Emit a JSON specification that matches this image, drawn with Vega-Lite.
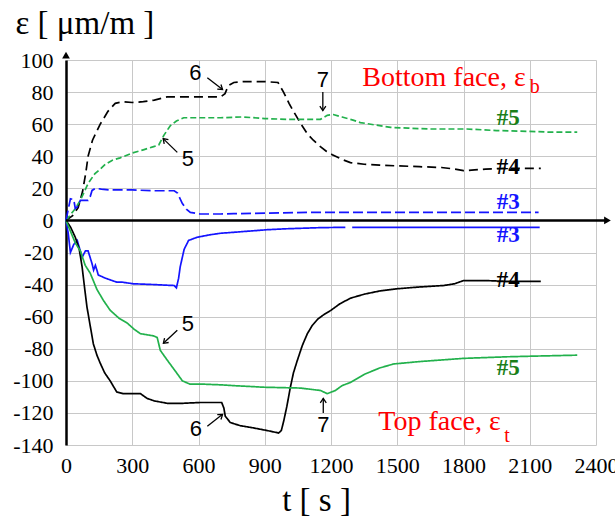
{
  "$schema": "https://vega.github.io/schema/vega-lite/v6.json",
  "width": 530,
  "height": 385,
  "autosize": {"type": "none"},
  "padding": {"left": 66, "top": 60, "right": 19, "bottom": 79},
  "background": "white",
  "config": {"view": {"stroke": null}},
  "datasets": {
    "curves": [
      {"s":"b4","t":0,"v":0},{"s":"b4","t":30,"v":3},{"s":"b4","t":55,"v":8},{"s":"b4","t":75,"v":18},{"s":"b4","t":90,"v":30},{"s":"b4","t":100,"v":40},{"s":"b4","t":120,"v":50},{"s":"b4","t":155,"v":60},{"s":"b4","t":190,"v":68},{"s":"b4","t":223,"v":73},{"s":"b4","t":260,"v":74},{"s":"b4","t":300,"v":73.5},{"s":"b4","t":350,"v":74},{"s":"b4","t":400,"v":75},{"s":"b4","t":458,"v":77},{"s":"b4","t":520,"v":77},{"s":"b4","t":600,"v":77},{"s":"b4","t":700,"v":77},{"s":"b4","t":720,"v":79},{"s":"b4","t":735,"v":84},{"s":"b4","t":760,"v":86},{"s":"b4","t":800,"v":86.5},{"s":"b4","t":850,"v":86.5},{"s":"b4","t":900,"v":86.5},{"s":"b4","t":960,"v":86},{"s":"b4","t":985,"v":80},{"s":"b4","t":1010,"v":73},{"s":"b4","t":1030,"v":68},{"s":"b4","t":1060,"v":61},{"s":"b4","t":1093,"v":54},{"s":"b4","t":1120,"v":50},{"s":"b4","t":1152,"v":46},{"s":"b4","t":1180,"v":43},{"s":"b4","t":1206,"v":41},{"s":"b4","t":1250,"v":38},{"s":"b4","t":1288,"v":36},{"s":"b4","t":1350,"v":35},{"s":"b4","t":1420,"v":34.5},{"s":"b4","t":1500,"v":34},{"s":"b4","t":1600,"v":33.5},{"s":"b4","t":1700,"v":33},{"s":"b4","t":1760,"v":32},{"s":"b4","t":1800,"v":31},{"s":"b4","t":1850,"v":31.5},{"s":"b4","t":1900,"v":32},{"s":"b4","t":2000,"v":32.5},{"s":"b4","t":2150,"v":32.5},
      {"s":"b5","t":0,"v":0},{"s":"b5","t":40,"v":7},{"s":"b5","t":65,"v":12.5},{"s":"b5","t":80,"v":17},{"s":"b5","t":100,"v":23},{"s":"b5","t":130,"v":29},{"s":"b5","t":155,"v":32},{"s":"b5","t":178,"v":35},{"s":"b5","t":210,"v":37.5},{"s":"b5","t":245,"v":39},{"s":"b5","t":300,"v":42},{"s":"b5","t":350,"v":44},{"s":"b5","t":397,"v":46},{"s":"b5","t":420,"v":47},{"s":"b5","t":443,"v":53},{"s":"b5","t":472,"v":59},{"s":"b5","t":500,"v":62},{"s":"b5","t":533,"v":64},{"s":"b5","t":600,"v":64},{"s":"b5","t":700,"v":64},{"s":"b5","t":800,"v":64.5},{"s":"b5","t":900,"v":63.5},{"s":"b5","t":1000,"v":63},{"s":"b5","t":1100,"v":63},{"s":"b5","t":1152,"v":63},{"s":"b5","t":1183,"v":65.5},{"s":"b5","t":1210,"v":66},{"s":"b5","t":1250,"v":64.5},{"s":"b5","t":1300,"v":62.5},{"s":"b5","t":1333,"v":61},{"s":"b5","t":1400,"v":59.5},{"s":"b5","t":1470,"v":58},{"s":"b5","t":1550,"v":57.5},{"s":"b5","t":1650,"v":57},{"s":"b5","t":1815,"v":57},{"s":"b5","t":1950,"v":56},{"s":"b5","t":2100,"v":55.5},{"s":"b5","t":2200,"v":55},{"s":"b5","t":2315,"v":55},
      {"s":"b3","t":0,"v":0},{"s":"b3","t":20,"v":13.5},{"s":"b3","t":35,"v":13},{"s":"b3","t":42,"v":7.5},{"s":"b3","t":55,"v":9},{"s":"b3","t":65,"v":12.5},{"s":"b3","t":100,"v":12.5},{"s":"b3","t":110,"v":15},{"s":"b3","t":118,"v":18.7},{"s":"b3","t":133,"v":20},{"s":"b3","t":160,"v":19.5},{"s":"b3","t":200,"v":19},{"s":"b3","t":300,"v":19},{"s":"b3","t":400,"v":18.5},{"s":"b3","t":490,"v":18.5},{"s":"b3","t":505,"v":17},{"s":"b3","t":527,"v":10.5},{"s":"b3","t":545,"v":7},{"s":"b3","t":563,"v":5},{"s":"b3","t":608,"v":4},{"s":"b3","t":700,"v":4},{"s":"b3","t":759,"v":4.2},{"s":"b3","t":900,"v":4.5},{"s":"b3","t":1100,"v":5},{"s":"b3","t":1300,"v":5},{"s":"b3","t":1600,"v":5},{"s":"b3","t":1900,"v":5},{"s":"b3","t":2140,"v":5},
      {"s":"t3","t":0,"v":0},{"s":"t3","t":10,"v":-8},{"s":"t3","t":20,"v":-20},{"s":"t3","t":35,"v":-15},{"s":"t3","t":51,"v":-12.5},{"s":"t3","t":73,"v":-23},{"s":"t3","t":88,"v":-19},{"s":"t3","t":100,"v":-19},{"s":"t3","t":118,"v":-27},{"s":"t3","t":125,"v":-31},{"s":"t3","t":133,"v":-28},{"s":"t3","t":140,"v":-31},{"s":"t3","t":146,"v":-34},{"s":"t3","t":178,"v":-36},{"s":"t3","t":230,"v":-38.5},{"s":"t3","t":255,"v":-38.5},{"s":"t3","t":305,"v":-39.5},{"s":"t3","t":400,"v":-40},{"s":"t3","t":490,"v":-40.6},{"s":"t3","t":500,"v":-42},{"s":"t3","t":510,"v":-36},{"s":"t3","t":517,"v":-29},{"s":"t3","t":535,"v":-18},{"s":"t3","t":555,"v":-12.5},{"s":"t3","t":594,"v":-10.5},{"s":"t3","t":650,"v":-9},{"s":"t3","t":700,"v":-8},{"s":"t3","t":760,"v":-7.4},{"s":"t3","t":911,"v":-5.8},{"s":"t3","t":1000,"v":-5.2},{"s":"t3","t":1152,"v":-4.5},{"s":"t3","t":1265,"v":-4.3},
      {"s":"t3x","t":1296,"v":-4.3},{"s":"t3x","t":1700,"v":-4.3},{"s":"t3x","t":2145,"v":-4.3},
      {"s":"t4","t":0,"v":0},{"s":"t4","t":20,"v":-4},{"s":"t4","t":42,"v":-10.5},{"s":"t4","t":60,"v":-18},{"s":"t4","t":73,"v":-29},{"s":"t4","t":85,"v":-43},{"s":"t4","t":95,"v":-54},{"s":"t4","t":110,"v":-66},{"s":"t4","t":124,"v":-77},{"s":"t4","t":140,"v":-84},{"s":"t4","t":155,"v":-89},{"s":"t4","t":175,"v":-95},{"s":"t4","t":200,"v":-100},{"s":"t4","t":230,"v":-107},{"s":"t4","t":260,"v":-108},{"s":"t4","t":290,"v":-108},{"s":"t4","t":337,"v":-108},{"s":"t4","t":368,"v":-111},{"s":"t4","t":400,"v":-112.5},{"s":"t4","t":458,"v":-114},{"s":"t4","t":530,"v":-114},{"s":"t4","t":608,"v":-113.5},{"s":"t4","t":705,"v":-113.5},{"s":"t4","t":715,"v":-117},{"s":"t4","t":721,"v":-122},{"s":"t4","t":744,"v":-126},{"s":"t4","t":790,"v":-128},{"s":"t4","t":835,"v":-129},{"s":"t4","t":911,"v":-131},{"s":"t4","t":963,"v":-132.5},{"s":"t4","t":975,"v":-131},{"s":"t4","t":986,"v":-125},{"s":"t4","t":1000,"v":-116},{"s":"t4","t":1016,"v":-104},{"s":"t4","t":1030,"v":-95},{"s":"t4","t":1047,"v":-87.5},{"s":"t4","t":1070,"v":-78},{"s":"t4","t":1093,"v":-70.6},{"s":"t4","t":1115,"v":-65.5},{"s":"t4","t":1140,"v":-61.5},{"s":"t4","t":1170,"v":-58.5},{"s":"t4","t":1200,"v":-56},{"s":"t4","t":1240,"v":-52},{"s":"t4","t":1288,"v":-48.5},{"s":"t4","t":1350,"v":-46},{"s":"t4","t":1420,"v":-44},{"s":"t4","t":1500,"v":-42.6},{"s":"t4","t":1600,"v":-41.5},{"s":"t4","t":1709,"v":-40.6},{"s":"t4","t":1760,"v":-39.5},{"s":"t4","t":1800,"v":-37.5},{"s":"t4","t":1900,"v":-37.5},{"s":"t4","t":2000,"v":-38},{"s":"t4","t":2150,"v":-38},
      {"s":"t5","t":0,"v":0},{"s":"t5","t":42,"v":-14},{"s":"t5","t":65,"v":-19},{"s":"t5","t":87,"v":-28},{"s":"t5","t":110,"v":-33},{"s":"t5","t":140,"v":-43},{"s":"t5","t":170,"v":-50},{"s":"t5","t":200,"v":-56},{"s":"t5","t":240,"v":-61},{"s":"t5","t":277,"v":-64},{"s":"t5","t":310,"v":-68},{"s":"t5","t":337,"v":-70.6},{"s":"t5","t":397,"v":-72},{"s":"t5","t":413,"v":-73},{"s":"t5","t":427,"v":-81},{"s":"t5","t":458,"v":-87},{"s":"t5","t":490,"v":-93},{"s":"t5","t":527,"v":-100},{"s":"t5","t":560,"v":-102},{"s":"t5","t":608,"v":-102},{"s":"t5","t":700,"v":-102.5},{"s":"t5","t":760,"v":-103},{"s":"t5","t":900,"v":-104},{"s":"t5","t":1061,"v":-104.5},{"s":"t5","t":1152,"v":-106},{"s":"t5","t":1183,"v":-108},{"s":"t5","t":1220,"v":-106},{"s":"t5","t":1250,"v":-103},{"s":"t5","t":1288,"v":-101},{"s":"t5","t":1350,"v":-96},{"s":"t5","t":1420,"v":-92},{"s":"t5","t":1483,"v":-89.5},{"s":"t5","t":1600,"v":-88},{"s":"t5","t":1700,"v":-87},{"s":"t5","t":1800,"v":-86},{"s":"t5","t":2000,"v":-85},{"s":"t5","t":2150,"v":-84.5},{"s":"t5","t":2315,"v":-84}
    ],
    "arrows": [
      {"t":640,"v":89,"t2":709,"v2":81.6},
      {"t":504,"v":42.4,"t2":440,"v2":51},
      {"t":1163,"v":80,"t2":1163,"v2":68.5},
      {"t":504,"v":-68.5,"t2":441,"v2":-76.6},
      {"t":640,"v":-128.3,"t2":709,"v2":-120.9},
      {"t":1165,"v":-120,"t2":1165,"v2":-111}
    ],
    "numbers": [
      {"t":586,"v":91.6,"txt":"6"},
      {"t":552,"v":38.3,"txt":"5"},
      {"t":1163,"v":87.5,"txt":"7"},
      {"t":552,"v":-64.5,"txt":"5"},
      {"t":588,"v":-130,"txt":"6"},
      {"t":1165,"v":-127.7,"txt":"7"}
    ],
    "faces": [
      {"t":1342,"v":84.1,"txt":"Bottom face, ε"},
      {"t":1414,"v":-130.8,"txt":"Top face, ε"}
    ],
    "subs": [
      {"t":2100,"v":79.7,"txt":"b"},
      {"t":1985,"v":-138.3,"txt":"t"}
    ],
    "labels": [
      {"t":2003,"v":64,"txt":"#5","g":"5"},
      {"t":2003,"v":33.6,"txt":"#4","g":"4"},
      {"t":2003,"v":11.2,"txt":"#3","g":"3"},
      {"t":2003,"v":-9.3,"txt":"#3","g":"3"},
      {"t":2003,"v":-37.4,"txt":"#4","g":"4"},
      {"t":2003,"v":-92,"txt":"#5","g":"5"}
    ]
  },
  "encoding": {
    "x": {
      "field": "t", "type": "quantitative",
      "scale": {"domain": [0, 2400], "nice": false, "zero": false},
      "axis": {
        "values": [0, 300, 600, 900, 1200, 1500, 1800, 2100, 2400],
        "format": "d",
        "grid": true, "gridColor": "#c8c8c8", "gridWidth": 1,
        "domain": false, "ticks": false, "tickSize": 0,
        "labelFont": "Liberation Serif, Times New Roman, serif", "labelFontSize": 22, "labelColor": "#000000",
        "labelBaseline": "alphabetic", "labelPadding": 27, "labelDx": -7,
        "labelFlush": false, "labelOverlap": false,
        "title": "t [ s ]", "titleFont": "Liberation Serif, Times New Roman, serif", "titleFontSize": 33,
        "titleFontWeight": "normal", "titleColor": "#000000",
        "titleX": 250, "titleY": 65, "titleBaseline": "alphabetic", "titleAlign": "center"
      }
    },
    "y": {
      "field": "v", "type": "quantitative",
      "scale": {"domain": [-140, 100], "nice": false, "zero": false},
      "axis": {
        "values": [-140, -120, -100, -80, -60, -40, -20, 0, 20, 40, 60, 80, 100],
        "format": "d",
        "grid": true, "gridColor": "#c8c8c8", "gridWidth": 1,
        "domain": true, "domainColor": "#000000", "domainWidth": 2.5,
        "ticks": false, "tickSize": 0,
        "labelFont": "Liberation Serif, Times New Roman, serif", "labelFontSize": 22, "labelColor": "#000000",
        "labelPadding": 13, "labelBaseline": "middle", "labelFlush": false, "labelOverlap": false,
        "labelExpr": "replace(datum.label, '−', '-')",
        "title": "ε [ μm/m ]", "titleAngle": 0, "titleAlign": "left", "titleBaseline": "alphabetic",
        "titleX": -51, "titleY": -27, "titleFont": "Liberation Serif, Times New Roman, serif", "titleFontSize": 33,
        "titleFontWeight": "normal", "titleColor": "#000000"
      }
    }
  },
  "layer": [
    {
      "data": {"name": "curves"},
      "mark": {"type": "line", "strokeWidth": 1.7},
      "encoding": {
        "color": {"field": "s", "type": "nominal",
          "scale": {"domain": ["b3","b4","b5","t3","t3x","t4","t5"],
                    "range": ["#1414ff","#000000","#22b14c","#1414ff","#1414ff","#000000","#22b14c"]},
          "legend": null},
        "strokeDash": {"field": "s", "type": "nominal",
          "scale": {"domain": ["b3","b4","b5","t3","t3x","t4","t5"],
                    "range": [[10,4],[9,5],[6,3],[1,0],[1,0],[1,0],[1,0]]},
          "legend": null}
      }
    },
    {
      "data": {"values": [{"t": 0, "t2": 2445, "v": 0}]},
      "mark": {"type": "rule", "color": "#000000", "strokeWidth": 2.5},
      "encoding": {"x2": {"field": "t2"}}
    },
    {
      "data": {"values": [{"t": 0, "v": 103}]},
      "mark": {"type": "point", "shape": "triangle-up", "filled": true, "color": "#000000", "size": 60, "opacity": 1},
      "encoding": {}
    },
    {
      "data": {"values": [{"t": 2452, "v": 0}]},
      "mark": {"type": "point", "shape": "triangle-right", "filled": true, "color": "#000000", "size": 60, "opacity": 1},
      "encoding": {}
    },
    {
      "data": {"name": "arrows"},
      "mark": {"type": "rule", "color": "#000000", "strokeWidth": 1.3},
      "encoding": {"x2": {"field": "t2"}, "y2": {"field": "v2"}}
    },
    {
      "data": {"name": "arrows"},
      "transform": [
        {"calculate": "atan2((datum.t2 - datum.t) * 0.2208, (datum.v2 - datum.v) * 1.604) * 180 / PI", "as": "ang"}
      ],
      "mark": {"type": "point", "shape": "M-0.75,1.1L0,0L0.75,1.1", "filled": false, "color": "#000000", "strokeWidth": 1.3, "size": 64, "opacity": 1},
      "encoding": {
        "x": {"field": "t2", "type": "quantitative", "scale": {"domain": [0, 2400], "nice": false, "zero": false}},
        "y": {"field": "v2", "type": "quantitative", "scale": {"domain": [-140, 100], "nice": false, "zero": false}},
        "angle": {"field": "ang", "type": "quantitative", "scale": null}
      }
    },
    {
      "data": {"name": "numbers"},
      "mark": {"type": "text", "font": "Liberation Sans, Arial, sans-serif", "fontSize": 22, "color": "#000000", "align": "center", "baseline": "middle"},
      "encoding": {"text": {"field": "txt"}}
    },
    {
      "data": {"name": "faces"},
      "mark": {"type": "text", "font": "Liberation Serif, Times New Roman, serif", "fontSize": 28, "color": "#ff0000", "align": "left", "baseline": "alphabetic"},
      "encoding": {"text": {"field": "txt"}}
    },
    {
      "data": {"name": "subs"},
      "mark": {"type": "text", "font": "Liberation Serif, Times New Roman, serif", "fontSize": 20, "color": "#ff0000", "align": "left", "baseline": "alphabetic"},
      "encoding": {"text": {"field": "txt"}}
    },
    {
      "data": {"name": "labels"},
      "mark": {"type": "text", "font": "Liberation Serif, Times New Roman, serif", "fontSize": 23, "fontWeight": "bold", "align": "center", "baseline": "middle"},
      "encoding": {
        "text": {"field": "txt"},
        "color": {"field": "g", "type": "nominal",
          "scale": {"domain": ["3","4","5"], "range": ["#1414ff","#000000","#1a7f1a"]},
          "legend": null}
      }
    }
  ],
  "resolve": {"scale": {"color": "independent"}}
}
